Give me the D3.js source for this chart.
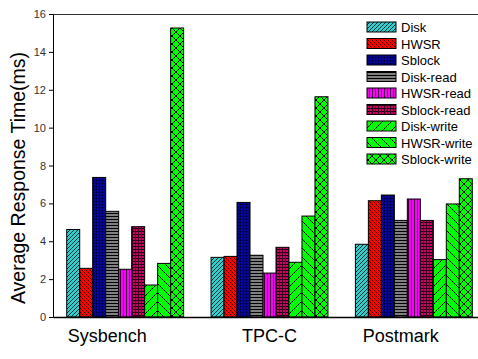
<!DOCTYPE html>
<html><head><meta charset="utf-8">
<script src="https://cdn.jsdelivr.net/npm/d3@7"></script>
<style>body{margin:0;background:#fff}svg{display:block;font-family:"Liberation Sans",Arial,sans-serif}</style>
</head><body><svg id="c" width="478" height="359"></svg>
<script>
const categories = ["Sysbench", "TPC-C", "Postmark"];
const seriesNames = ["Disk","HWSR","Sblock","Disk-read","HWSR-read","Sblock-read","Disk-write","HWSR-write","Sblock-write"];
const disk        = [4.62, 3.15, 3.84];
const hwsr        = [2.57, 3.20, 6.14];
const sblock      = [7.37, 6.05, 6.44];
const diskRead    = [5.58, 3.26, 5.10];
const hwsrRead    = [2.52, 2.32, 6.23];
const sblockRead  = [4.77, 3.68, 5.10];
const diskWrite   = [1.69, 2.89, 3.03];
const hwsrWrite   = [2.83, 5.33, 5.97];
const sblockWrite = [15.26, 11.63, 7.30];
const yTicks = [0,2,4,6,8,10,12,14,16];

const seriesValues = [disk,hwsr,sblock,diskRead,hwsrRead,sblockRead,diskWrite,hwsrWrite,sblockWrite];
const bg = ["#33CCCC","#FF0000","#000080","#808080","#FF00FF","#CC0066","#00FF00","#00FF00","#00FF00"];
const labelShift = [-18, 0, -13];

const svg = d3.select("#c");
const defs = svg.append("defs");
function pat(id, size, color, draw){
  const p = defs.append("pattern").attr("id",id).attr("patternUnits","userSpaceOnUse")
    .attr("width",size).attr("height",size);
  p.append("rect").attr("width",size).attr("height",size).attr("fill",color);
  draw(p, size);
}
const line = (p,d,w,c)=>p.append("path").attr("d",d).attr("stroke",c||"#000").attr("stroke-width",w).attr("fill","none");
pat("p0",4,bg[0],(p,s)=>line(p,`M0,${s} L${s},0 M-1,1 L1,-1 M${s-1},${s+1} L${s+1},${s-1}`,1,"#003333"));
pat("p1",4,bg[1],(p,s)=>line(p,`M0,0 L${s},${s} M-1,${s-1} L1,${s+1} M${s-1},-1 L${s+1},1`,1,"#400000"));
pat("p2",3,bg[2],(p,s)=>{p.append("rect").attr("x",0).attr("y",0).attr("width",1).attr("height",1).attr("fill","#000020");p.append("rect").attr("x",1.5).attr("y",1.5).attr("width",1).attr("height",1).attr("fill","#2020a0");});
pat("p3",3,bg[3],(p,s)=>line(p,`M0,0.5 L${s},0.5`,1,"#000"));
pat("p4",3,bg[4],(p,s)=>line(p,`M0.5,0 L0.5,${s}`,1,"#400040"));
pat("p5",3,bg[5],(p,s)=>line(p,`M0,0.5 L${s},0.5 M0.5,0 L0.5,${s}`,1,"#300018"));
pat("p6",9,bg[6],(p,s)=>line(p,`M0,${s} L${s},0 M-2,2 L2,-2 M${s-2},${s+2} L${s+2},${s-2}`,1,"#000"));
pat("p7",9,bg[7],(p,s)=>line(p,`M0,0 L${s},${s} M-2,${s-2} L2,${s+2} M${s-2},-2 L${s+2},2`,1,"#000"));
pat("p8",8,bg[8],(p,s)=>line(p,`M0,0 L${s},${s} M0,${s} L${s},0`,1,"#000"));

const mLeft = 53, mTop = 14, mBottom = 317, mRight = 486;
const y = d3.scaleLinear().domain([0,16]).range([mBottom, mTop]);
const x0 = d3.scaleBand().domain(categories).range([mLeft, mRight]).paddingInner(0.19).paddingOuter(0.095);
const x1 = d3.scaleBand().domain(seriesNames).range([0, x0.bandwidth()]);

svg.append("line").attr("x1",mLeft).attr("x2",478).attr("y1",mTop+0.5).attr("y2",mTop+0.5).attr("stroke","#333").attr("stroke-width",1);

const g = svg.append("g");
categories.forEach((c,ci)=>{
  g.selectAll(null).data(seriesNames).enter().append("rect")
    .attr("x",(s)=>x0(c)+x1(s))
    .attr("y",(s,si)=>y(seriesValues[si][ci]))
    .attr("width",x1.bandwidth())
    .attr("height",(s,si)=>mBottom - y(seriesValues[si][ci]))
    .attr("fill",(s,si)=>`url(#p${si})`)
    .attr("stroke","#000").attr("stroke-width",1);
});

const ya = svg.append("g").attr("transform",`translate(${mLeft},0)`)
  .call(d3.axisLeft(y).tickValues(yTicks).tickSize(4).tickFormat(d3.format("d")));
ya.select(".domain").attr("stroke","#000");
ya.selectAll("text").attr("font-size",11).attr("fill","#333").attr("font-family","Liberation Sans, Arial, sans-serif");

const xa = svg.append("g").attr("transform",`translate(0,${mBottom})`)
  .call(d3.axisBottom(x0).tickSize(0).tickPadding(12));
xa.select(".domain").attr("stroke","#000").attr("stroke-width",1.5);
xa.selectAll(".tick text").attr("font-size",18).attr("fill","#000")
  .attr("font-family","Liberation Sans, Arial, sans-serif")
  .attr("dy",null).attr("y",25)
  .attr("x",(d,i)=>labelShift[i]);

svg.append("text").attr("transform","translate(25,178) rotate(-90)").attr("text-anchor","middle")
  .attr("font-size",19.5).attr("fill","#000").text("Average Response Time(ms)");

const lg = svg.append("g");
seriesNames.forEach((s,i)=>{
  const yy = 27 + i*16.5;
  lg.append("rect").attr("x",367).attr("y",yy-5).attr("width",29).attr("height",10)
    .attr("fill",`url(#p${i})`).attr("stroke","#000").attr("stroke-width",1);
  lg.append("text").attr("x",401).attr("y",yy+5).attr("font-size",13).attr("fill","#000").text(s);
});
</script></body></html>
